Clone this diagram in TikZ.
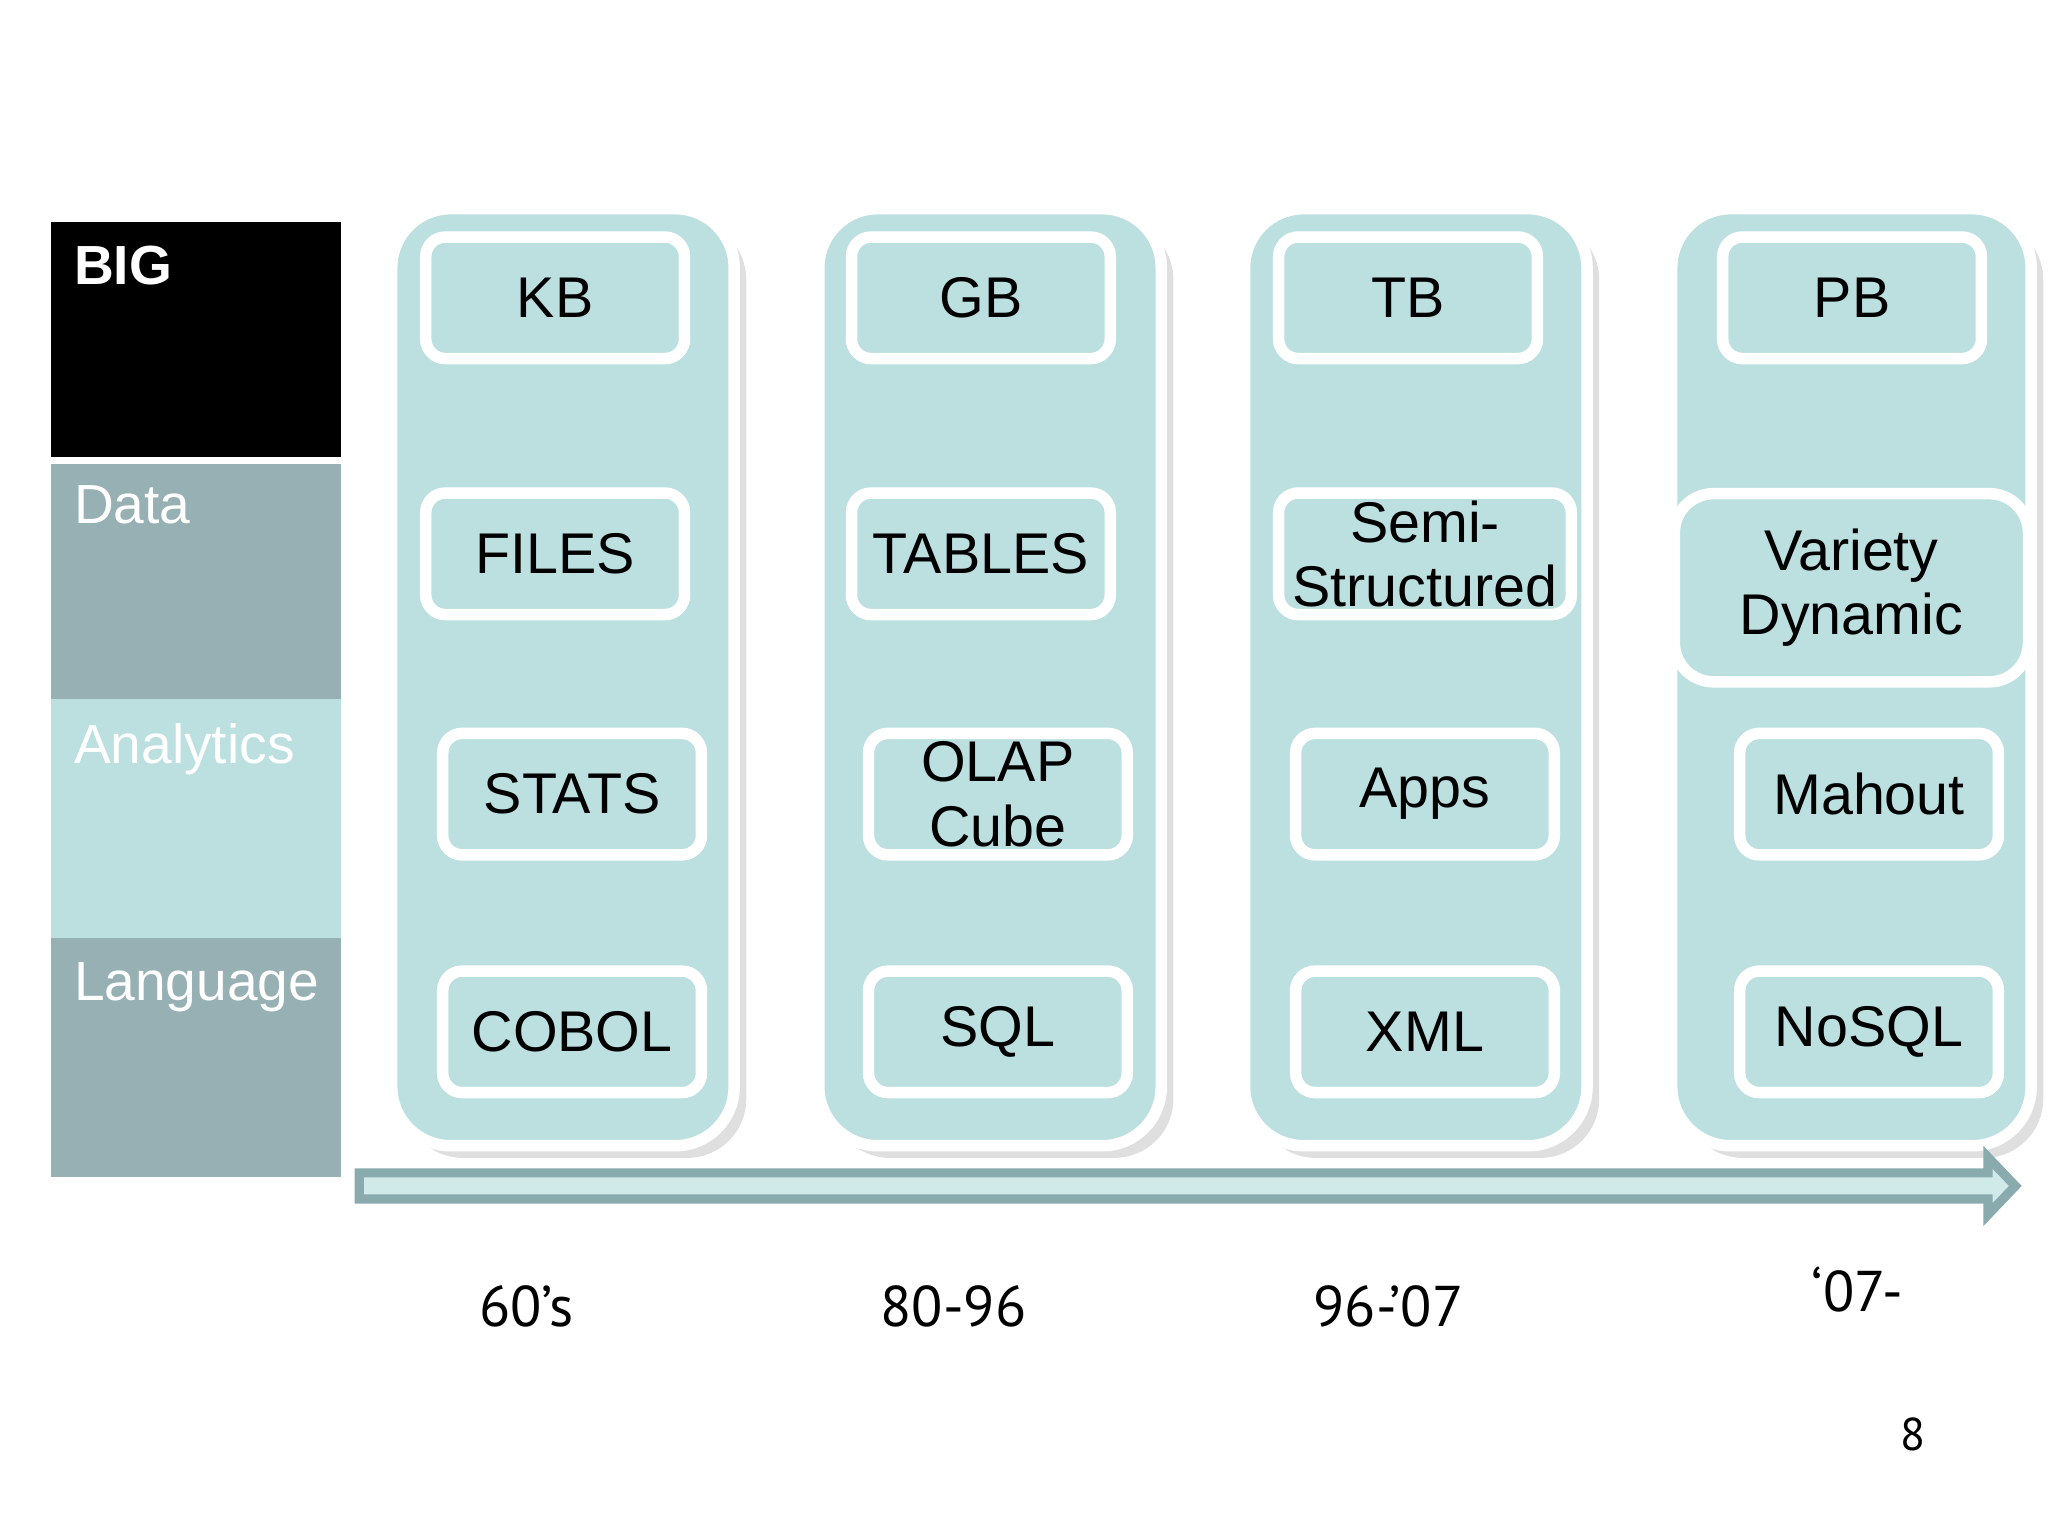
\documentclass[tikz,border=0pt]{standalone}
\usepackage{fontspec}
\setmainfont{Liberation Sans}
\newfontfamily\gill{PT Sans}
\usetikzlibrary{shadows}
\definecolor{pane}{HTML}{BCDFE0}
\definecolor{grayb}{HTML}{97B0B3}
\definecolor{arrowb}{HTML}{8AABAD}
\begin{document}
\begin{tikzpicture}[x=0.01cm,y=-0.01cm,
  panel/.style={draw=white,line width=2.5pt,fill=pane,rounded corners=0.45cm,drop shadow={opacity=0.25}},
  box/.style={draw=white,line width=2.5pt,fill=pane,rounded corners=0.15cm,minimum width=1.98cm,minimum height=0.93cm,align=center,font=\fontsize{12.5}{14}\selectfont,drop shadow={opacity=0.3,shadow xshift=0.5pt,shadow yshift=-1pt},inner sep=1pt},
  side/.style={anchor=north west,inner sep=0pt,font=\fontsize{12}{14}\selectfont},
  yr/.style={font=\gill\fontsize{12.5}{14}\selectfont}]
\useasboundingbox (0,0) rectangle (1568,1176);
% left column
\fill[black] (39,170) rectangle (261,350);
\fill[grayb] (39,355) rectangle (261,535);
\fill[pane] (39,535) rectangle (261,718);
\fill[grayb] (39,718) rectangle (261,901);
\node[side,text=white,font=\bfseries\fontsize{12}{14}\selectfont] (big) at (56,188) {BIG};
\node[side,text=white] (data) at (56,371) {Data};
\node[side,text=white] (ana) at (56,553) {Analytics};
\node[side,text=white] (lang) at (56,736) {Language};
% panels
\node[panel,minimum width=2.62cm,minimum height=7.17cm] (p1) at (431,518.5) {};
\node[panel,minimum width=2.62cm,minimum height=7.17cm] (p2) at (758,518.5) {};
\node[panel,minimum width=2.62cm,minimum height=7.17cm] (p3) at (1084,518.5) {};
\node[panel,minimum width=2.75cm,minimum height=7.17cm] (p4) at (1417.5,518.5) {};
% boxes
\node[box] (kb) at (425,228) {KB};
\node[box] (files) at (425,424) {FILES};
\node[box] (stats) at (438,608) {STATS};
\node[box] (cobol) at (438,790) {COBOL};
\node[box] (gb) at (751,228) {GB};
\node[box] (tables) at (751,424) {TABLES};
\node[box] (olap) at (764,608) {OLAP\\Cube};
\node[box] (sql) at (764,790) {SQL};
\node[box] (tb) at (1078,228) {TB};
\node[box,minimum width=2.24cm] (semi) at (1091,424) {Semi-\\Structured};
\node[box] (apps) at (1091,608) {Apps};
\node[box] (xml) at (1091,790) {XML};
\node[box] (pb) at (1418,228) {PB};
\node[box,minimum width=2.71cm,minimum height=1.44cm,rounded corners=0.3cm] (var) at (1417.5,450) {Variety\\Dynamic};
\node[box] (mahout) at (1431,608) {Mahout};
\node[box] (nosql) at (1431,790) {NoSQL};
% arrow
\draw[arrowb,line width=2pt,fill=pane!70!white,line join=miter]
  (275,898) -- (1522,898) -- (1522,886) -- (1543,908) -- (1522,930) -- (1522,918) -- (275,918) -- cycle;
% years
\node[yr] (y1) at (403,1000) {60’s};
\node[yr] (y2) at (730,1000) {80-96};
\node[yr] (y3) at (1063,1000) {96-’07};
\node[yr] (y4) at (1422,987) {‘07-};
\node[yr,font=\gill\fontsize{10}{12}\selectfont] (pg) at (1465,1098) {8};
\end{tikzpicture}
\end{document}
